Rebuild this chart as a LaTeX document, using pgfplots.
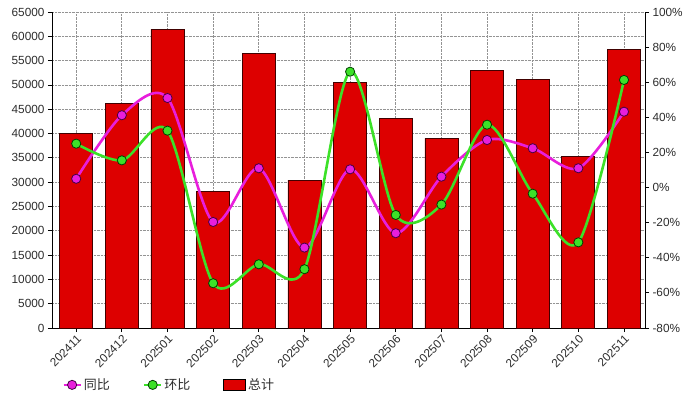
\documentclass[border=0pt]{standalone}
\usepackage{fontspec}
\setmainfont{Liberation Sans}
\newfontfamily\cjk{Noto Sans CJK SC}
\usepackage{pgfplots}
\pgfplotsset{compat=1.18}
\definecolor{barred}{RGB}{221,0,0}
\definecolor{mag}{RGB}{232,30,220}
\definecolor{grn}{RGB}{60,225,40}
\definecolor{txt}{RGB}{45,45,45}
\begin{document}
\begin{tikzpicture}
\pgfplotsset{
  common/.style={
    scale only axis, width=593bp, height=316bp,
    xmin=-0.53, xmax=12.46,
    tick align=outside, major tick length=4bp,
    tick label style={font=\fontsize{11.8bp}{13bp}\selectfont, text=txt},
    /pgf/number format/assume math mode=true,
    every axis line/.style={line width=0.9pt, black},
    every tick/.style={line width=0.8pt, black},
  }
}
\begin{axis}[common,
  ymin=0, ymax=65000,
  axis x line*=bottom, axis y line*=left,
  ytick={0,5000,...,65000},
  scaled y ticks=false,
  yticklabel style={/pgf/number format/1000 sep=},
  xtick={0,...,12},
  xticklabels={202411,202412,202501,202502,202503,202504,202505,202506,202507,202508,202509,202510,202511},
  x tick label style={rotate=45, anchor=north east, inner sep=1.5bp},
  xmajorgrids, ymajorgrids,
  grid style={densely dotted, gray!85, line width=0.7pt},
  ybar, bar width=33bp,
]
\addplot[fill=barred, draw=black!75!red, line width=0.8pt] coordinates {
(0,40000) (1,46200) (2,61400) (3,28000) (4,56500) (5,30400) (6,50500)
(7,43100) (8,39000) (9,52900) (10,51200) (11,35300) (12,57300)};
\coordinate (sw) at (rel axis cs:0,0);
\coordinate (ne) at (rel axis cs:1,1);
\end{axis}
\begin{axis}[common,
  ymin=-80, ymax=100,
  axis y line*=right, axis x line=none,
  ytick={-80,-60,...,100},
  yticklabel={\pgfmathprintnumber{\tick}\%},
  legend columns=3,
  legend style={draw=none, fill=none, at={(axis description cs:0.012,-0.18)}, anchor=west,
    font=\cjk\fontsize{13bp}{15bp}\selectfont, text=txt,
    /tikz/every even column/.append style={column sep=31bp}},
]
\addplot[mag, line width=2.6bp, smooth, tension=0.5, mark=*, mark size=4.6bp,
  mark options={fill=mag, draw=violet!55!black, line width=0.8pt}] coordinates {
(0,5) (1,41.2) (2,51) (3,-19.6) (4,11) (5,-34.2) (6,10.4) (7,-26) (8,6.2)
(9,27.1) (10,22.4) (11,11) (12,43.2)};
\addlegendentry{同比}
\addplot[grn, line width=2.6bp, smooth, tension=0.5, mark=*, mark size=4.6bp,
  mark options={fill=grn, draw=green!25!black, line width=0.8pt}] coordinates {
(0,25) (1,15.5) (2,32.4) (3,-54.5) (4,-43.7) (5,-46.5) (6,66) (7,-15.6)
(8,-9.7) (9,35.8) (10,-3.5) (11,-31.2) (12,61.3)};
\addlegendentry{环比}
\addlegendimage{legend image code/.code={\draw[fill=barred, draw=black, line width=0.6pt] (0bp,-5.5bp) rectangle (22bp,5.5bp);}}
\addlegendentry{总计}
\end{axis}
\pgfresetboundingbox
\path ([shift={(-52bp,-71bp)}]sw) rectangle ([shift={(48bp,12bp)}]ne);
\end{tikzpicture}
\end{document}
